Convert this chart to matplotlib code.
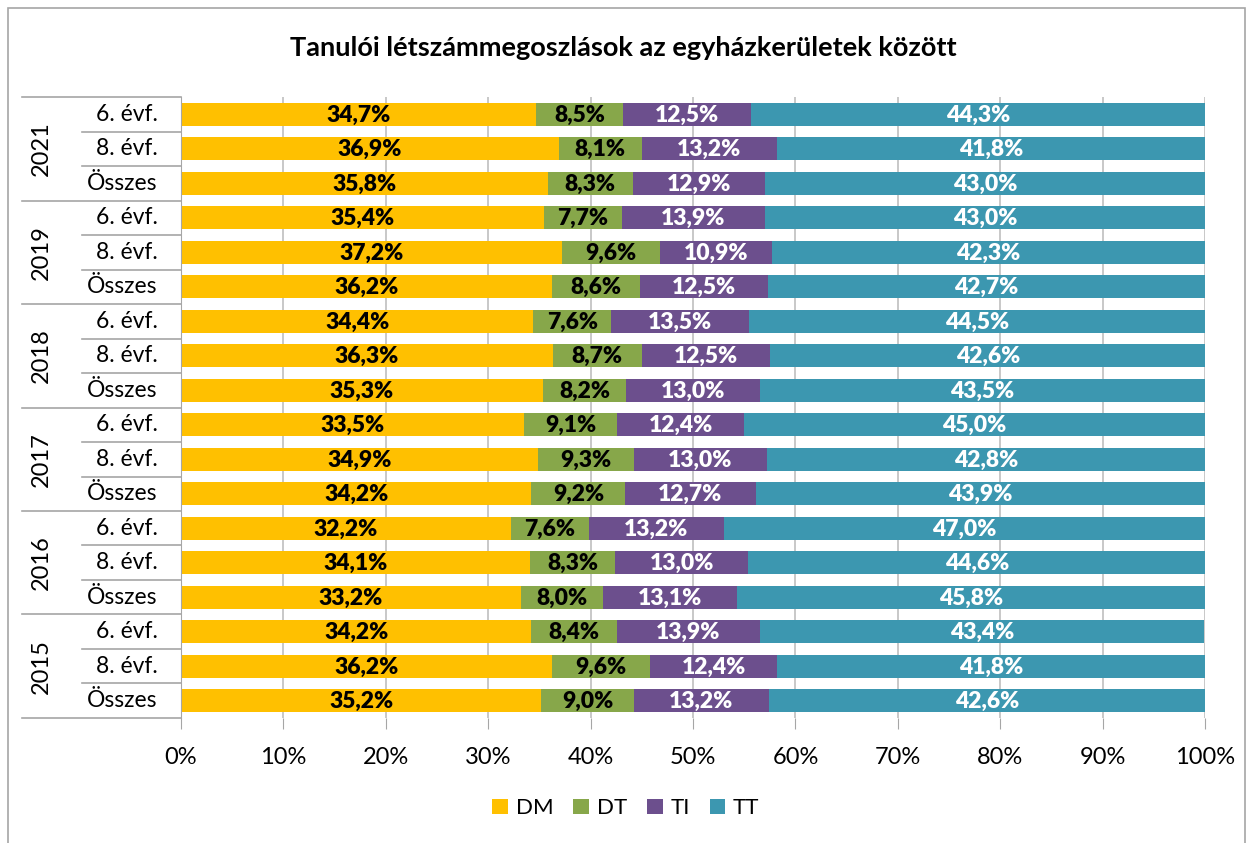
import matplotlib.pyplot as plt
from matplotlib.patches import Rectangle
from matplotlib.transforms import blended_transform_factory

plt.rcParams['font.family'] = ['Lato', 'DejaVu Sans']

# data, top row first
years = ['2021', '2019', '2018', '2017', '2016', '2015']
groups = ['6. évf.', '8. évf.', 'Összes']
series = ['DM', 'DT', 'TI', 'TT']
colors = ['#FFC000', '#87A74A', '#6C4F8D', '#3C97B0']
text_colors = ['black', 'black', 'white', 'white']

DM = [34.7, 36.9, 35.8, 35.4, 37.2, 36.2, 34.4, 36.3, 35.3,
      33.5, 34.9, 34.2, 32.2, 34.1, 33.2, 34.2, 36.2, 35.2]
DT = [8.5, 8.1, 8.3, 7.7, 9.6, 8.6, 7.6, 8.7, 8.2,
      9.1, 9.3, 9.2, 7.6, 8.3, 8.0, 8.4, 9.6, 9.0]
TI = [12.5, 13.2, 12.9, 13.9, 10.9, 12.5, 13.5, 12.5, 13.0,
      12.4, 13.0, 12.7, 13.2, 13.0, 13.1, 13.9, 12.4, 13.2]
TT = [44.3, 41.8, 43.0, 43.0, 42.3, 42.7, 44.5, 42.6, 43.5,
      45.0, 42.8, 43.9, 47.0, 44.6, 45.8, 43.4, 41.8, 42.6]
values = [DM, DT, TI, TT]

fig = plt.figure(figsize=(12.52, 8.43), dpi=100)
ax = fig.add_axes([0.1446, 0.1483, 0.8179, 0.7366])

n = len(DM)
rows = list(range(n))
left = [0.0] * n
for vals, name, col, tc in zip(values, series, colors, text_colors):
    ax.barh(rows, vals, left=left, height=0.67, color=col, label=name, zorder=2)
    for i, v in enumerate(vals):
        ax.text(left[i] + v / 2, i + 0.03, f'{v:.1f}%'.replace('.', ','), ha='center', va='center',
                fontsize=16.5, fontweight='heavy', color=tc, zorder=3)
    left = [a + b for a, b in zip(left, vals)]

ax.set_xlim(0, 100)
ax.set_ylim(n - 0.5, -0.5)
ax.set_xticks(range(0, 101, 10))
ax.set_xticklabels([f'{t}%' for t in range(0, 101, 10)], fontsize=17)
ax.tick_params(axis='x', length=8, color='#A6A6A6', pad=13)
ax.set_yticks([])
ax.grid(axis='x', color='#BFBFBF', linewidth=1.2, zorder=0)
for s in ['top', 'right', 'bottom']:
    ax.spines[s].set_visible(False)
ax.spines['left'].set_color('#A6A6A6')

# category axis with year groups
tr = blended_transform_factory(ax.transAxes, ax.transData)
for i in range(n):
    ax.text(-0.023, i, groups[i % 3], transform=tr, ha='right', va='center', fontsize=16.5)
for i in range(n + 1):
    x0 = -0.155 if i % 3 == 0 else -0.0967
    ax.plot([x0, 0], [i - 0.5, i - 0.5], transform=tr, color='#A6A6A6',
            linewidth=1.2, clip_on=False)
for g, y in enumerate(years):
    ax.text(-0.136, g * 3 + 1, y, transform=tr, rotation=90, ha='center', va='center', fontsize=17)

fig.text(0.498, 0.943, 'Tanulói létszámmegoszlások az egyházkerületek között',
         ha='center', va='center', fontsize=19.5, fontweight='bold')

fig.legend(loc='center', bbox_to_anchor=(0.5, 0.041), ncol=4, frameon=False,
           fontsize=16, handlelength=0.7, handleheight=0.7, handletextpad=0.35,
           columnspacing=0.9)

fig.patches.append(Rectangle((8 / 1252, -0.1), 1237 / 1252, 1.1 - 8 / 843, transform=fig.transFigure,
                             fill=False, edgecolor='#A6A6A6', linewidth=1.2))

fig.savefig('out.png', dpi=100)
